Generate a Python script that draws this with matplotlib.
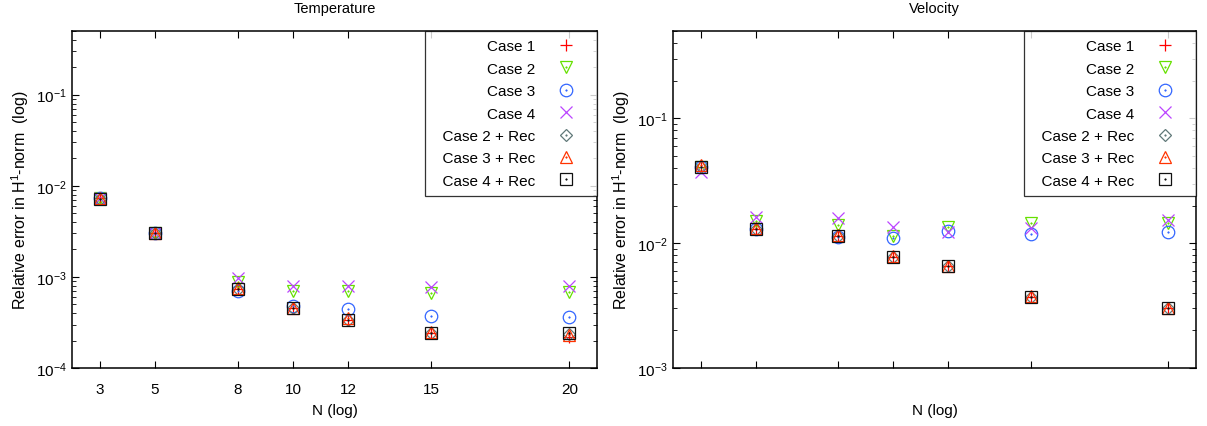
import numpy as np
import matplotlib
matplotlib.use("Agg")
import matplotlib.pyplot as plt
from matplotlib.legend_handler import HandlerTuple
from matplotlib.ticker import LogLocator, NullFormatter

plt.rcParams['font.family'] = ['Liberation Sans', 'DejaVu Sans']
plt.rcParams['mathtext.fontset'] = 'custom'
plt.rcParams['mathtext.rm'] = 'Liberation Sans'
plt.rcParams['mathtext.it'] = 'Liberation Sans'

N = [3, 5, 8, 10, 12, 15, 20]
labels = ['Case 1', 'Case 2', 'Case 3', 'Case 4',
          'Case 2 + Rec', 'Case 3 + Rec', 'Case 4 + Rec']

# Temperature, relative H1 error
temp_case1 = [7.3e-3, 3.0e-3, 7.3e-4, 4.5e-4, 3.4e-4, 2.45e-4, 2.2e-4]
temp_case2 = [7.3e-3, 3.0e-3, 8.8e-4, 7.0e-4, 7.0e-4, 6.6e-4, 6.8e-4]
temp_case3 = [7.3e-3, 3.0e-3, 7.0e-4, 4.8e-4, 4.4e-4, 3.7e-4, 3.6e-4]
temp_case4 = [7.3e-3, 3.0e-3, 9.7e-4, 7.9e-4, 7.9e-4, 7.7e-4, 8.0e-4]
temp_case2r = [7.2e-3, 3.0e-3, 7.4e-4, 4.5e-4, 3.4e-4, 2.45e-4, 2.35e-4]
temp_case3r = [7.4e-3, 3.05e-3, 7.5e-4, 4.6e-4, 3.5e-4, 2.5e-4, 2.3e-4]
temp_case4r = [7.2e-3, 3.0e-3, 7.3e-4, 4.5e-4, 3.4e-4, 2.45e-4, 2.4e-4]

# Velocity, relative H1 error
vel_case1 = [0.041, 0.0130, 0.0114, 0.0078, 0.0065, 0.0037, 0.0030]
vel_case2 = [0.041, 0.0150, 0.0139, 0.0115, 0.0135, 0.0144, 0.0144]
vel_case3 = [0.041, 0.0130, 0.0112, 0.0109, 0.0126, 0.0119, 0.0123]
vel_case4 = [0.037, 0.0161, 0.0158, 0.0134, 0.0123, 0.0131, 0.0152]
vel_case2r = [0.041, 0.0130, 0.0115, 0.0078, 0.0065, 0.0037, 0.0030]
vel_case3r = [0.042, 0.0132, 0.0116, 0.0079, 0.0066, 0.0038, 0.0030]
vel_case4r = [0.041, 0.0130, 0.0115, 0.0078, 0.0065, 0.0037, 0.0030]

temp = [temp_case1, temp_case2, temp_case3, temp_case4,
        temp_case2r, temp_case3r, temp_case4r]
vel = [vel_case1, vel_case2, vel_case3, vel_case4,
       vel_case2r, vel_case3r, vel_case4r]

colors = ['#ff0000', '#66e000', '#3366ff', '#bb44ff', '#607878', '#ff3300', '#111111']
markers = ['+', 'v', 'o', 'x', 'D', '^', 's']
sizes = [9, 8, 9, 9, 6, 8, 8]
dotted = [False, True, True, False, True, True, True]

fig = plt.figure(figsize=(12.07, 4.27), dpi=100)
W, H = 1207, 427
ax1 = fig.add_axes([72 / W, (H - 369) / H, (597 - 72) / W, (369 - 32) / H])
ax2 = fig.add_axes([673 / W, (H - 369) / H, (1196 - 673) / W, (369 - 32) / H])


def draw(ax, data, ylo, title, ticklabels):
    handles = []
    for vals, c, m, s, d in zip(data, colors, markers, sizes, dotted):
        h, = ax.plot(N, vals, linestyle='none', marker=m, ms=s, mec=c, mfc='none',
                     mew=0.9, color=c)
        parts = [h]
        if d:
            hd, = ax.plot(N, vals, linestyle='none', marker='o', ms=1.2, mec=c,
                          mfc=c, mew=0.3)
            parts.append(hd)
        handles.append(tuple(parts))
    ax.set_yscale('log')
    ax.set_xlim(2.0, 21.0)
    ax.set_ylim(ylo, 0.5)
    ax.set_xticks(N)
    if ticklabels:
        ax.set_xticklabels([str(n) for n in N])
    else:
        ax.set_xticklabels([])
    ax.yaxis.set_major_locator(LogLocator(base=10, numticks=10))
    ax.yaxis.set_minor_locator(LogLocator(base=10, subs=np.arange(2, 10), numticks=10))
    ax.yaxis.set_minor_formatter(NullFormatter())
    ax.tick_params(which='both', direction='in', top=True, right=True,
                   labelsize=11, colors='black')
    ax.tick_params(which='major', length=5, width=0.8)
    ax.tick_params(which='minor', length=3, width=0.6)
    ax.tick_params(axis='x', pad=10)
    for sp in ax.spines.values():
        sp.set_linewidth(1.1)
    ax.set_title(title, fontsize=10.5, pad=14)
    ax.set_xlabel('N (log)', fontsize=11)
    ax.xaxis.set_label_coords(0.5, -0.103)
    ax.set_ylabel('Relative error in H$^{1}$-norm  (log)', fontsize=11.5)
    ax.yaxis.set_label_coords(-0.078, 0.5)
    # leading spaces widen the box on the left, as in the original
    leg_labels = ['  ' + t if 'Rec' in t else t for t in labels]
    leg = ax.legend(handles, leg_labels, loc='upper right', markerfirst=False,
                    handler_map={tuple: HandlerTuple(ndivide=1)},
                    fontsize=11, frameon=True, fancybox=False,
                    borderaxespad=0, labelspacing=0.55, handlelength=3.0,
                    handletextpad=0.5, borderpad=0.55, edgecolor='black')
    leg.get_frame().set_linewidth(0.9)


draw(ax1, temp, 1e-4, 'Temperature', True)
draw(ax2, vel, 1e-3, 'Velocity', False)

fig.savefig('out.png', dpi=100)
